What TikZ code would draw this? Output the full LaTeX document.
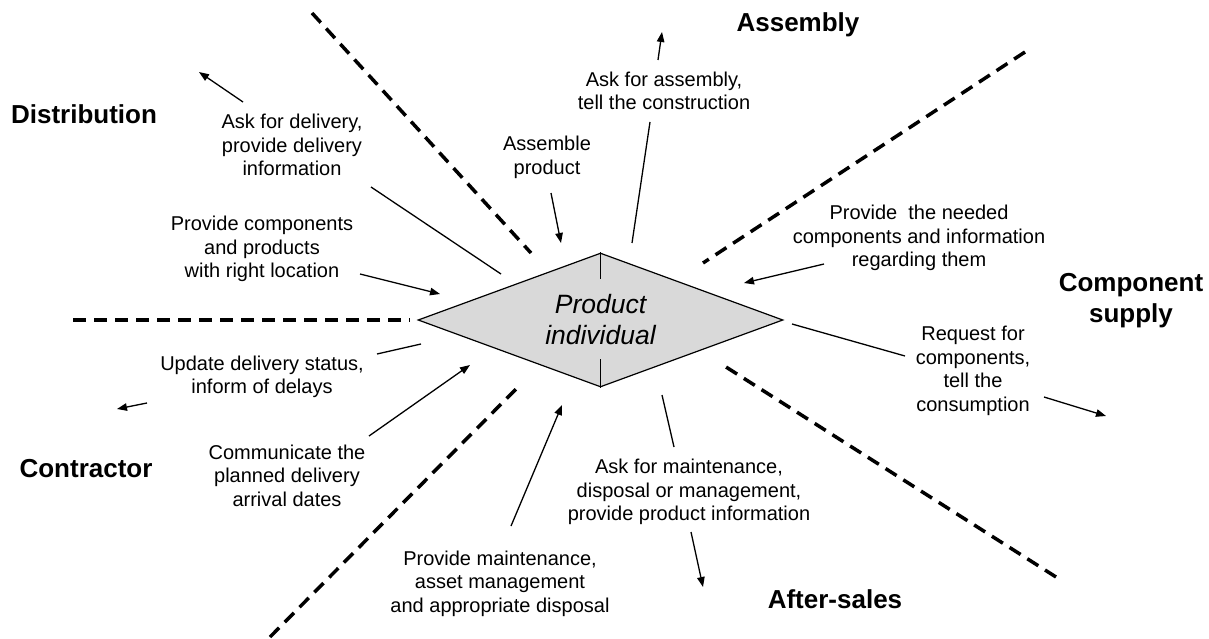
\documentclass[tikz,border=0pt]{standalone}
\usepackage{fontspec}
\setmainfont{Liberation Sans}
\usetikzlibrary{shapes.geometric,arrows.meta}
\definecolor{prodgray}{RGB}{217,217,217}
\tikzset{
  txt/.style={align=center, font=\fontsize{20}{23.5}\selectfont, inner sep=0pt},
  lbl/.style={align=center, font=\fontsize{26}{31}\selectfont\bfseries, inner sep=0pt},
  conn/.style={line width=1.3pt},
  arr/.style={conn, -{Triangle[length=10pt,width=7.5pt]}},
  sep/.style={line width=3.5pt, dash pattern=on 13pt off 8pt},
}
\begin{document}
\begin{tikzpicture}[x=1pt,y=-1pt]
\path[use as bounding box] (0,0) rectangle (1209,639);

% central product individual
\node[diamond, draw, line width=1.2pt, fill=prodgray, minimum width=365pt,
      minimum height=134pt, inner sep=0pt, aspect=2.7,
      font=\fontsize{26.5}{31}\selectfont\itshape, align=center] (prod) at (600.5,320)
      {Product\\individual};
\draw[conn] (prod.north) -- ++(0,27);
\draw[conn] (prod.south) -- ++(0,-29);

% separators
\coordinate (s1a) at (312,13);   \coordinate (s1b) at (531,253);
\coordinate (s2a) at (73,320);   \coordinate (s2b) at (410,320);
\coordinate (s3a) at (270,637);  \coordinate (s3b) at (521,384);
\coordinate (s4a) at (1025,52);  \coordinate (s4b) at (703,263);
\coordinate (s5a) at (1056,577); \coordinate (s5b) at (726,367);
\draw[sep] (s1a) -- (s1b);
\draw[sep] (s2a) -- (s2b);
\draw[sep] (s3a) -- (s3b);
\draw[sep] (s4a) -- (s4b);
\draw[sep] (s5a) -- (s5b);

% stakeholder labels
\node[lbl, anchor=base] (dist) at (84,124) {Distribution};
\node[lbl, anchor=base] (asm) at (798,32) {Assembly};
\node[lbl] (comp) at (1131,301) {Component\\supply};
\node[lbl, anchor=base] (contr) at (86,477) {Contractor};
\node[lbl, anchor=base] (after) at (835,608) {After-sales};

% message texts
\node[txt] (t1) at (292,145) {Ask for delivery,\\provide delivery\\information};
\node[txt] (t2) at (547,157.5) {Assemble\\product};
\node[txt] (t3) at (664,91) {Ask for assembly,\\tell the construction};
\node[txt] (t4) at (262,249) {Provide components\\and products\\with right location};
\node[txt] (t5) at (919,238) {Provide\ \ the needed\\components and information\\regarding them};
\node[txt] (t6) at (973,371) {Request for\\components,\\tell the\\consumption};
\node[txt] (t7) at (262,377) {Update delivery status,\\inform of delays};
\node[txt] (t8) at (287,475.5) {Communicate the\\planned delivery\\arrival dates};
\node[txt] (t9) at (500,583.5) {Provide maintenance,\\asset management\\and appropriate disposal};
\node[txt] (t10) at (689,492) {Ask for maintenance,\\disposal or management,\\provide product information};

% connector end points
\coordinate (a1) at (243,102);  \coordinate (a2) at (199,72);
\coordinate (b1) at (371,187);  \coordinate (b2) at (501,274);
\coordinate (c1) at (360,274);  \coordinate (c2) at (440,294);
\coordinate (d1) at (551,193);  \coordinate (d2) at (561,243);
\coordinate (e1) at (632,243);  \coordinate (e2) at (650,122);
\coordinate (f1) at (658,60);   \coordinate (f2) at (662,32);
\coordinate (g1) at (824,264);  \coordinate (g2) at (744,283);
\coordinate (h1) at (792,324);  \coordinate (h2) at (905,356);
\coordinate (i1) at (1044,397); \coordinate (i2) at (1106,416);
\coordinate (j1) at (662,395);  \coordinate (j2) at (674,447);
\coordinate (k1) at (691,532);  \coordinate (k2) at (703,587);
\coordinate (l1) at (511,526);  \coordinate (l2) at (562,405);
\coordinate (m1) at (369,436);  \coordinate (m2) at (470,365);
\coordinate (n1) at (377,354);  \coordinate (n2) at (421,344);
\coordinate (o1) at (147,403);  \coordinate (o2) at (117,409);

\draw[arr] (a1) -- (a2);
\draw[conn] (b1) -- (b2);
\draw[arr] (c1) -- (c2);
\draw[arr] (d1) -- (d2);
\draw[conn] (e1) -- (e2);
\draw[arr] (f1) -- (f2);
\draw[arr] (g1) -- (g2);
\draw[conn] (h1) -- (h2);
\draw[arr] (i1) -- (i2);
\draw[conn] (j1) -- (j2);
\draw[arr] (k1) -- (k2);
\draw[arr] (l1) -- (l2);
\draw[arr] (m1) -- (m2);
\draw[conn] (n1) -- (n2);
\draw[arr] (o1) -- (o2);
\end{tikzpicture}
\end{document}
